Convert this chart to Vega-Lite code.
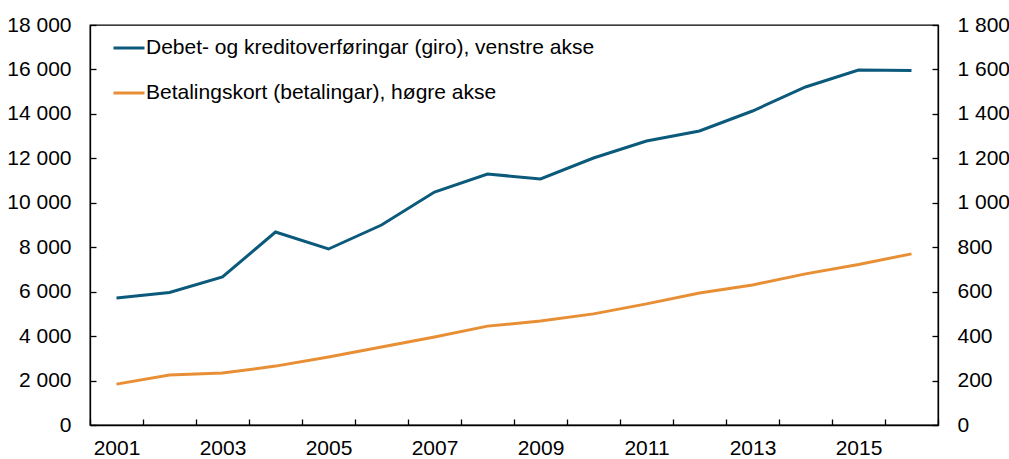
{
  "$schema": "https://vega.github.io/schema/vega-lite/v6.json",
  "width": 848,
  "height": 400,
  "autosize": {"type": "none"},
  "padding": {"left": 90, "top": 25, "right": 71, "bottom": 34},
  "config": {
    "font": "Liberation Sans",
    "view": {"stroke": "black", "strokeWidth": 1.3},
    "axis": {"grid": false, "labelFontSize": 21, "labelColor": "black", "domainColor": "black", "tickColor": "black", "domainWidth": 1.3, "tickWidth": 1.3, "labelFont": "Liberation Sans"},
    "legend": {"labelFontSize": 21, "labelFont": "Liberation Sans", "labelColor": "black"}
  },
  "data": {
    "values": [
      {"year": "2001", "series": "Debet- og kreditoverføringar (giro), venstre akse", "value": 5715},
      {"year": "2002", "series": "Debet- og kreditoverføringar (giro), venstre akse", "value": 5960},
      {"year": "2003", "series": "Debet- og kreditoverføringar (giro), venstre akse", "value": 6660},
      {"year": "2004", "series": "Debet- og kreditoverføringar (giro), venstre akse", "value": 8685},
      {"year": "2005", "series": "Debet- og kreditoverføringar (giro), venstre akse", "value": 7920},
      {"year": "2006", "series": "Debet- og kreditoverføringar (giro), venstre akse", "value": 9000},
      {"year": "2007", "series": "Debet- og kreditoverføringar (giro), venstre akse", "value": 10485},
      {"year": "2008", "series": "Debet- og kreditoverføringar (giro), venstre akse", "value": 11295},
      {"year": "2009", "series": "Debet- og kreditoverføringar (giro), venstre akse", "value": 11070},
      {"year": "2010", "series": "Debet- og kreditoverføringar (giro), venstre akse", "value": 12015},
      {"year": "2011", "series": "Debet- og kreditoverføringar (giro), venstre akse", "value": 12780},
      {"year": "2012", "series": "Debet- og kreditoverføringar (giro), venstre akse", "value": 13230},
      {"year": "2013", "series": "Debet- og kreditoverføringar (giro), venstre akse", "value": 14130},
      {"year": "2014", "series": "Debet- og kreditoverføringar (giro), venstre akse", "value": 15210},
      {"year": "2015", "series": "Debet- og kreditoverføringar (giro), venstre akse", "value": 15975},
      {"year": "2016", "series": "Debet- og kreditoverføringar (giro), venstre akse", "value": 15950},
      {"year": "2001", "series": "Betalingskort (betalingar), høgre akse", "value": 184},
      {"year": "2002", "series": "Betalingskort (betalingar), høgre akse", "value": 225},
      {"year": "2003", "series": "Betalingskort (betalingar), høgre akse", "value": 234},
      {"year": "2004", "series": "Betalingskort (betalingar), høgre akse", "value": 265},
      {"year": "2005", "series": "Betalingskort (betalingar), høgre akse", "value": 306},
      {"year": "2006", "series": "Betalingskort (betalingar), høgre akse", "value": 351},
      {"year": "2007", "series": "Betalingskort (betalingar), høgre akse", "value": 396},
      {"year": "2008", "series": "Betalingskort (betalingar), høgre akse", "value": 445},
      {"year": "2009", "series": "Betalingskort (betalingar), høgre akse", "value": 468},
      {"year": "2010", "series": "Betalingskort (betalingar), høgre akse", "value": 500},
      {"year": "2011", "series": "Betalingskort (betalingar), høgre akse", "value": 545},
      {"year": "2012", "series": "Betalingskort (betalingar), høgre akse", "value": 594},
      {"year": "2013", "series": "Betalingskort (betalingar), høgre akse", "value": 630},
      {"year": "2014", "series": "Betalingskort (betalingar), høgre akse", "value": 680},
      {"year": "2015", "series": "Betalingskort (betalingar), høgre akse", "value": 722},
      {"year": "2016", "series": "Betalingskort (betalingar), høgre akse", "value": 770}
    ]
  },
  "encoding": {
    "x": {
      "field": "year",
      "type": "ordinal",
      "scale": {"type": "band", "paddingInner": 0, "paddingOuter": 0},
      "axis": {
        "title": null,
        "labelAngle": 0,
        "tickBand": "extent",
        "tickSize": -6,
        "labelPadding": 18,
        "labelExpr": "toNumber(datum.value) % 2 == 1 ? datum.label : ''"
      }
    },
    "color": {
      "field": "series",
      "type": "nominal",
      "scale": {
        "domain": ["Debet- og kreditoverføringar (giro), venstre akse", "Betalingskort (betalingar), høgre akse"],
        "range": ["#0b5a7c", "#e88f35"]
      },
      "legend": {
        "title": null,
        "orient": "none",
        "legendX": 22,
        "legendY": 6,
        "padding": 0,
        "symbolType": "stroke",
        "symbolSize": 961,
        "symbolStrokeWidth": 3,
        "labelOffset": 0,
        "rowPadding": 18,
        "labelLimit": 700
      }
    }
  },
  "layer": [
    {
      "transform": [{"filter": "datum.series == 'Debet- og kreditoverføringar (giro), venstre akse'"}],
      "mark": {"type": "line", "strokeWidth": 3},
      "encoding": {
        "y": {
          "field": "value",
          "type": "quantitative",
          "scale": {"domain": [0, 18000], "nice": false},
          "axis": {
            "title": null,
            "orient": "left",
            "values": [0, 2000, 4000, 6000, 8000, 10000, 12000, 14000, 16000, 18000],
            "tickSize": -6,
            "labelPadding": 25,
            "labelExpr": "replace(format(datum.value, ','), ',', ' ')"
          }
        }
      }
    },
    {
      "transform": [{"filter": "datum.series == 'Betalingskort (betalingar), høgre akse'"}],
      "mark": {"type": "line", "strokeWidth": 3},
      "encoding": {
        "y": {
          "field": "value",
          "type": "quantitative",
          "scale": {"domain": [0, 1800], "nice": false},
          "axis": {
            "title": null,
            "orient": "right",
            "values": [0, 200, 400, 600, 800, 1000, 1200, 1400, 1600, 1800],
            "tickSize": -6,
            "labelPadding": 25,
            "labelExpr": "replace(format(datum.value, ','), ',', ' ')"
          }
        }
      }
    }
  ],
  "resolve": {"scale": {"y": "independent"}}
}
